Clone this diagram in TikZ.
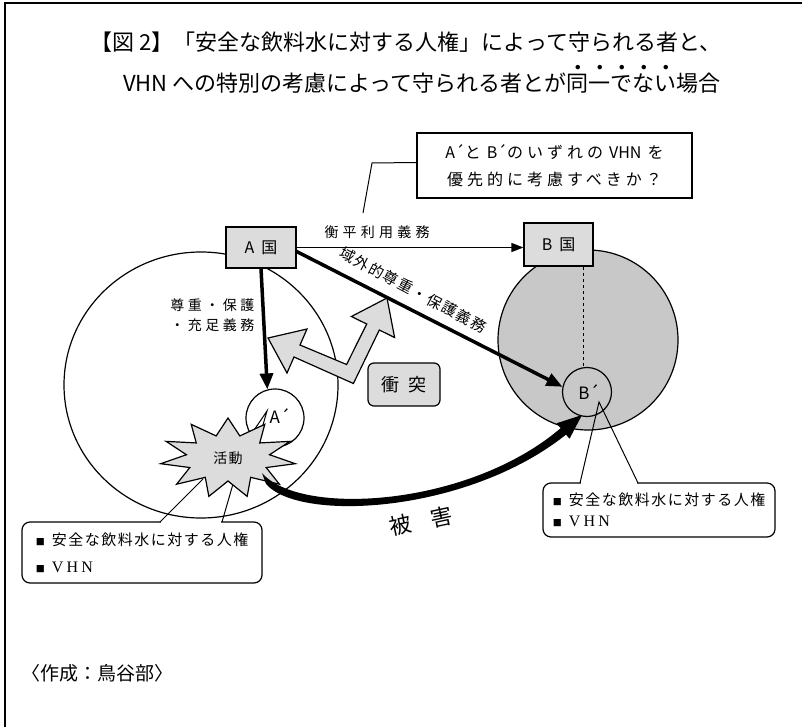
\documentclass[tikz,border=0pt]{standalone}
\usepackage{fontspec}
\setmainfont{Noto Sans CJK JP}
\newfontfamily\serifv{Liberation Serif}
\usetikzlibrary{arrows.meta,calc,shapes.geometric}
\definecolor{boxgray}{HTML}{DCDCDC}
\definecolor{circgray}{HTML}{C8C8C8}
\newcommand\myfs[1]{\fontsize{#1}{#1}\selectfont}
\newcommand\myls[1]{\addfontfeatures{LetterSpace=#1}}
\newcommand\bt[1]{\makebox[0pt][l]{\makebox[1em][c]{\raisebox{1.0em}{\fontsize{5}{5}\selectfont ●}}}#1}
\newcommand\sqb{{\fontsize{9}{9}\selectfont ■}\hspace{7pt}}
\tikzset{
  cbox/.style={draw, line width=1.2pt, fill=boxgray, inner sep=0pt, minimum width=70pt, minimum height=41pt, font=\myfs{16}},
  callbox/.style={draw, line width=1.2pt, fill=white, rounded corners=8pt, inner sep=0pt, align=left},
  thinline/.style={line width=1pt},
  ringA/.style={draw, line width=1.2pt, inner sep=0pt},
  bigarrow/.style={line width=3.5pt, -{Triangle[length=16pt,width=13pt]}},
  smallarrow/.style={line width=1.2pt, -{Triangle[length=12pt,width=9pt]}}
}
\begin{document}
\begin{tikzpicture}[x=1pt,y=-1pt]
\useasboundingbox (0,0) rectangle (802,727);
\draw[line width=1.5pt] (5,727) -- (5,3) -- (802,3);
% title
\node[font=\myfs{22}] (t1) at (406,42) {【図 2】「安全な飲料水に対する人権」によって守られる者と、};
\node[font=\myfs{22}] (t2) at (422,79) {VHN への特別の考慮によって守られる者とが\bt{同}\bt{一}\bt{で}\bt{な}\bt{い}場合};
% circles
\node[ringA, ellipse, minimum width=274pt, minimum height=266pt] (Acirc) at (201,385) {};
\node[ringA, circle, fill=circgray, minimum size=180pt] (Bcirc) at (588,340) {};
\node[ringA, circle, fill=white, minimum size=58pt] (Ap) at (275,418) {};
\node[ringA, circle, fill=circgray, minimum size=49pt] (Bp) at (587,392) {};
\node[font=\myfs{17}] (Aplab) at (280,416) {A´};
\node[font=\myfs{17}] (Bplab) at (589,392) {B´};
% question box
\node[draw, line width=1.3pt, fill=white, minimum width=275pt, minimum height=65pt, inner sep=0pt, align=center, font=\fontsize{16}{27}\selectfont] (q) at (554.5,165.5) {A´{\myls{25}と}\hspace{6pt}B´{\myls{25}のいずれの}\hspace{6pt}VHN\hspace{6pt}{\myls{25}を}\\{\myls{25}優先的に考慮すべきか？}};
\coordinate (qend) at (363,213);
\draw[thinline] ([yshift=3pt]q.west) -- (372,163) -- (qend);
% state boxes
\node[cbox] (A) at (261,247.5) {A\hspace{7pt}国};
\node[cbox, minimum width=69pt, minimum height=43pt] (B) at (558.5,244.5) {B\hspace{7pt}国};
\draw[dashed, line width=1pt] (Bp.97 |- B.south) -- (Bp.97);
% arrows
\draw[smallarrow] (A.east) -- (A.east -| B.west);
\node[font=\myfs{14}\myls{30}] (lab1) at (377,232) {衡平利用義務};
\draw[bigarrow] (A.south) -- (Ap.105);
\node[anchor=east, align=right, font=\fontsize{14}{20}\selectfont\myls{25}] (lab2) at (258,315) {尊重・保護\\・充足義務};
\draw[bigarrow] ([yshift=-4pt]A.east) -- (Bp.168);
\node[rotate=-28, font=\myfs{15}\myls{10}] (lab3) at (413,290) {域外的尊重・保護義務};
% conflict arrow
\draw[line width=1.2pt, fill=boxgray, line join=miter] (268,338) -- (307,329) -- (300,345) -- (346.6,364.5) -- (366.7,324) -- (351.4,316.5) -- (387,298) -- (394.6,337.5) -- (379.3,330) -- (353.4,383.5) -- (294,357) -- (287,373) -- cycle;
\node[draw, line width=1.2pt, rounded corners=6pt, fill=boxgray, minimum width=72pt, minimum height=43pt, font=\myfs{18}] (conf) at (404,384.5) {衝\hspace{10pt}突};
% callout boxes
\node[callbox, minimum width=240pt, minimum height=61pt, font=\fontsize{15}{27}\selectfont\myls{10}] (lb) at (142,552.5) {\sqb 安全な飲料水に対する人権\\\sqb{\serifv\fontsize{16}{27}\selectfont\myls{20}VHN}};
\draw[white, line width=2.5pt] (161,522) -- (221,522);
\draw[thinline] (160,522) -- (203,479);
\draw[thinline] (222,522) -- (233,484);
\node[callbox, minimum width=232pt, minimum height=54pt, font=\fontsize{15}{21}\selectfont\myls{10}] (rb) at (659,510) {\sqb 安全な飲料水に対する人権\\\sqb{\serifv\fontsize{16}{21}\selectfont\myls{20}VHN}};
\draw[white, line width=2.5pt] (581,483) -- (637,483);
\draw[thinline] (580,483) -- (599,402) -- (638,483);
% pointer to A'
\draw[thinline] (246,442) -- (267,411) -- (258,442);
% star
\coordinate (act) at (228,458);
\draw[line width=1.2pt, fill=boxgray, line join=miter] plot[samples at={0,...,21}, variable=\k] ({228+ifthenelse(mod(\k,2)==0,68,42)*cos(90+\k*360/22)}, {458-ifthenelse(mod(\k,2)==0,40,23)*sin(90+\k*360/22)}) -- cycle;
\node[font=\myfs{14}\myls{10}] (actlab) at (act) {活動};
% damage arrow
\fill (262,473) .. controls (300,517) and (470,507) .. (562,427) -- (568,433) .. controls (470,513) and (300,523) .. (266,484) -- cycle;
\fill (556.5,423.3) -- (582,415) -- (569.5,438.7) -- cycle;
\node[font=\myfs{22}, rotate=12] (dmg) at (421,521) {被\hspace{20pt}害};
% footer
\node[anchor=west, font=\myfs{19}] (foot) at (18,673) {〈作成：鳥谷部〉};
\end{tikzpicture}
\end{document}
